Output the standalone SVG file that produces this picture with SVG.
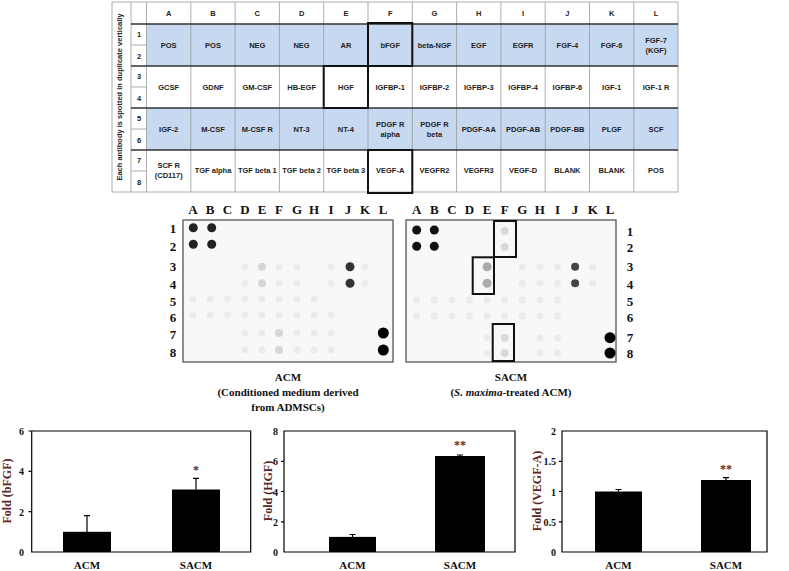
<svg xmlns="http://www.w3.org/2000/svg" width="789" height="571" viewBox="0 0 789 571">
<style>
.t{font-family:"Liberation Sans",Arial,sans-serif;font-size:7.5px;font-weight:bold;text-anchor:middle;fill:#222}
.s{font-family:"Liberation Serif","Times New Roman",serif;font-weight:bold;fill:#111}
.l{font-size:13px;text-anchor:middle}
.cap{font-size:11px;text-anchor:middle}
.tk{font-size:10px;text-anchor:end}
.yl{font-size:12px;text-anchor:middle;fill:#5a2626}
.g{stroke:#999;stroke-width:0.8;fill:none}
.bx{stroke:#111;stroke-width:2;fill:none}
.f{fill:#ebebeb}
.bar{fill:#000}
.ax{fill:none;stroke:#000;stroke-width:1.2}
</style>
<rect width="789" height="571" fill="#fff"/>
<g id="table">
<rect x="146.5" y="24" width="531.5" height="42" fill="#c6d9f0"/>
<rect x="146.5" y="108" width="531.5" height="42" fill="#c6d9f0"/>
<rect x="112" y="2" width="566" height="190" class="g"/>
<path class="g" d="M131 2V192M146.5 2V192M190.8 2V192M235.1 2V192M279.4 2V192M323.7 2V192M368 2V192M412.3 2V192M456.6 2V192M500.9 2V192M545.2 2V192M589.5 2V192M633.8 2V192M131 45H146.5M131 87H146.5M131 129H146.5M131 171H146.5"/>
<path stroke="#333" stroke-width="1.6" d="M131 24H678M131 66H678M131 108H678M131 150H678"/>
<text class="t" transform="translate(122 97) rotate(-90)" font-size="7">Each antibody is spotted in duplicate vertically</text>
<g class="t">
<text x="139" y="37">1</text><text x="139" y="59">2</text><text x="139" y="79">3</text><text x="139" y="101">4</text><text x="139" y="121">5</text><text x="139" y="143">6</text><text x="139" y="163">7</text><text x="139" y="185">8</text>
<text x="168.7" y="16">A</text><text x="213" y="16">B</text><text x="257.3" y="16">C</text><text x="301.6" y="16">D</text><text x="345.9" y="16">E</text><text x="390.2" y="16">F</text><text x="434.5" y="16">G</text><text x="478.8" y="16">H</text><text x="523.1" y="16">I</text><text x="567.4" y="16">J</text><text x="611.7" y="16">K</text><text x="656" y="16">L</text>
<text x="168.7" y="48">POS</text><text x="213" y="48">POS</text><text x="257.3" y="48">NEG</text><text x="301.6" y="48">NEG</text><text x="345.9" y="48">AR</text><text x="390.2" y="48">bFGF</text><text x="434.5" y="48">beta-NGF</text><text x="478.8" y="48">EGF</text><text x="523.1" y="48">EGFR</text><text x="567.4" y="48">FGF-4</text><text x="611.7" y="48">FGF-6</text><text x="656" y="43">FGF-7</text><text x="656" y="53">(KGF)</text>
<text x="168.7" y="90">GCSF</text><text x="213" y="90">GDNF</text><text x="257.3" y="90">GM-CSF</text><text x="301.6" y="90">HB-EGF</text><text x="345.9" y="90">HGF</text><text x="390.2" y="90">IGFBP-1</text><text x="434.5" y="90">IGFBP-2</text><text x="478.8" y="90">IGFBP-3</text><text x="523.1" y="90">IGFBP-4</text><text x="567.4" y="90">IGFBP-6</text><text x="611.7" y="90">IGF-1</text><text x="656" y="90">IGF-1 R</text>
<text x="168.7" y="132">IGF-2</text><text x="213" y="132">M-CSF</text><text x="257.3" y="132">M-CSF R</text><text x="301.6" y="132">NT-3</text><text x="345.9" y="132">NT-4</text><text x="390.2" y="127">PDGF R</text><text x="390.2" y="137">alpha</text><text x="434.5" y="127">PDGF R</text><text x="434.5" y="137">beta</text><text x="478.8" y="132">PDGF-AA</text><text x="523.1" y="132">PDGF-AB</text><text x="567.4" y="132">PDGF-BB</text><text x="611.7" y="132">PLGF</text><text x="656" y="132">SCF</text>
<text x="168.7" y="168">SCF R</text><text x="168.7" y="178">(CD117)</text><text x="213" y="173">TGF alpha</text><text x="257.3" y="173">TGF beta 1</text><text x="301.6" y="173">TGF beta 2</text><text x="345.9" y="173">TGF beta 3</text><text x="390.2" y="173">VEGF-A</text><text x="434.5" y="173">VEGFR2</text><text x="478.8" y="173">VEGFR3</text><text x="523.1" y="173">VEGF-D</text><text x="567.4" y="173">BLANK</text><text x="611.7" y="173">BLANK</text><text x="656" y="173">POS</text>
</g>
<rect class="bx" x="368" y="23" width="44.3" height="43"/>
<rect class="bx" x="323.7" y="66" width="44.3" height="42"/>
<rect class="bx" x="368" y="150" width="44.3" height="43"/>
</g>
<g id="blot-acm">
<rect x="183" y="220" width="210" height="142" fill="#f8f8f8" stroke="#555" stroke-width="1.3"/>
<g class="s l">
<text x="193" y="214">A</text><text x="210" y="214">B</text><text x="227.5" y="214">C</text><text x="245" y="214">D</text><text x="262" y="214">E</text><text x="279" y="214">F</text><text x="297" y="214">G</text><text x="314" y="214">H</text><text x="331" y="214">I</text><text x="348" y="214">J</text><text x="365" y="214">K</text><text x="383" y="214">L</text>
<text x="173" y="233">1</text><text x="173" y="251">2</text><text x="173" y="271">3</text><text x="173" y="289">4</text><text x="173" y="306">5</text><text x="173" y="322">6</text><text x="173" y="339">7</text><text x="173" y="357">8</text>
</g>
<g class="f">
<circle cx="245" cy="266.7" r="3.5"/><circle cx="279" cy="266.7" r="3.5"/><circle cx="297" cy="266.7" r="3.5"/><circle cx="331" cy="266.7" r="3.5"/><circle cx="365" cy="266.7" r="3.5"/>
<circle cx="245" cy="283.3" r="3.5"/><circle cx="279" cy="283.3" r="3.5"/><circle cx="297" cy="283.3" r="3.5"/><circle cx="331" cy="283.3" r="3.5"/><circle cx="365" cy="283.3" r="3.5"/>
<circle cx="193" cy="299" r="3.5"/><circle cx="210" cy="299" r="3.5"/><circle cx="227.5" cy="299" r="3.5"/><circle cx="245" cy="299" r="3.5"/><circle cx="262" cy="299" r="3.5"/><circle cx="279" cy="299" r="3.5"/><circle cx="297" cy="299" r="3.5"/><circle cx="314" cy="299" r="3.5"/>
<circle cx="193" cy="315" r="3.5"/><circle cx="210" cy="315" r="3.5"/><circle cx="227.5" cy="315" r="3.5"/><circle cx="245" cy="315" r="3.5"/><circle cx="262" cy="315" r="3.5"/><circle cx="279" cy="315" r="3.5"/><circle cx="297" cy="315" r="3.5"/><circle cx="314" cy="315" r="3.5"/><circle cx="331" cy="315" r="3.5"/>
<circle cx="245" cy="333" r="3.5"/><circle cx="262" cy="333" r="3.5"/><circle cx="297" cy="333" r="3.5"/><circle cx="314" cy="333" r="3.5"/><circle cx="331" cy="333" r="3.5"/>
<circle cx="245" cy="350" r="3.5"/><circle cx="262" cy="350" r="3.5"/><circle cx="297" cy="350" r="3.5"/><circle cx="314" cy="350" r="3.5"/><circle cx="331" cy="350" r="3.5"/>
</g>
<g fill="#d6d6d6"><circle cx="262" cy="266.7" r="4"/><circle cx="262" cy="283.3" r="4"/><circle cx="279" cy="333" r="4"/><circle cx="279" cy="350" r="4"/></g>
<g fill="#222"><circle cx="193.3" cy="227.7" r="4.5"/><circle cx="211.7" cy="227.7" r="4.5"/><circle cx="193.3" cy="244.3" r="4.5"/><circle cx="211.7" cy="244.3" r="4.5"/></g>
<g fill="#333"><circle cx="350" cy="266.7" r="4.5"/><circle cx="350" cy="283.3" r="4.5"/></g>
<g fill="#000"><circle cx="383.3" cy="333" r="5.5"/><circle cx="383.3" cy="350" r="5.5"/></g>
</g>
<g id="blot-sacm">
<rect x="406" y="220" width="210" height="142" fill="#f8f8f8" stroke="#555" stroke-width="1.3"/>
<g class="s l">
<text x="416.7" y="214">A</text><text x="434.3" y="214">B</text><text x="451.9" y="214">C</text><text x="469.5" y="214">D</text><text x="487.1" y="214">E</text><text x="504.7" y="214">F</text><text x="522.3" y="214">G</text><text x="539.9" y="214">H</text><text x="557.5" y="214">I</text><text x="575.1" y="214">J</text><text x="592.7" y="214">K</text><text x="610" y="214">L</text>
<text x="630" y="236">1</text><text x="630" y="252">2</text><text x="630" y="271">3</text><text x="630" y="289">4</text><text x="630" y="306">5</text><text x="630" y="322">6</text><text x="630" y="342">7</text><text x="630" y="358">8</text>
</g>
<g class="f">
<circle cx="522.3" cy="266.7" r="3.5"/><circle cx="539.9" cy="266.7" r="3.5"/><circle cx="557.5" cy="266.7" r="3.5"/><circle cx="592.7" cy="266.7" r="3.5"/>
<circle cx="522.3" cy="283.3" r="3.5"/><circle cx="539.9" cy="283.3" r="3.5"/><circle cx="557.5" cy="283.3" r="3.5"/><circle cx="592.7" cy="283.3" r="3.5"/>
<circle cx="416.7" cy="300" r="3.5"/><circle cx="434.3" cy="300" r="3.5"/><circle cx="451.9" cy="300" r="3.5"/><circle cx="469.5" cy="300" r="3.5"/><circle cx="487.1" cy="300" r="3.5"/><circle cx="504.7" cy="300" r="3.5"/><circle cx="522.3" cy="300" r="3.5"/><circle cx="539.9" cy="300" r="3.5"/><circle cx="557.5" cy="300" r="3.5"/>
<circle cx="416.7" cy="316" r="3.5"/><circle cx="434.3" cy="316" r="3.5"/><circle cx="451.9" cy="316" r="3.5"/><circle cx="469.5" cy="316" r="3.5"/><circle cx="487.1" cy="316" r="3.5"/><circle cx="504.7" cy="316" r="3.5"/><circle cx="522.3" cy="316" r="3.5"/><circle cx="539.9" cy="316" r="3.5"/><circle cx="557.5" cy="316" r="3.5"/>
<circle cx="487.1" cy="337.7" r="3.5"/><circle cx="539.9" cy="337.7" r="3.5"/><circle cx="557.5" cy="337.7" r="3.5"/><circle cx="487.1" cy="353" r="3.5"/><circle cx="539.9" cy="353" r="3.5"/><circle cx="557.5" cy="353" r="3.5"/>
</g>
<g fill="#dadada"><circle cx="504.7" cy="231" r="4"/><circle cx="504.7" cy="247" r="4"/><circle cx="504.7" cy="337.7" r="4"/><circle cx="504.7" cy="353" r="4"/></g>
<g fill="#aaa"><circle cx="487.1" cy="266.7" r="4.5"/><circle cx="487.1" cy="283.3" r="4.5"/></g>
<g fill="#111"><circle cx="416.7" cy="230" r="4.5"/><circle cx="434.3" cy="230" r="4.5"/><circle cx="416.7" cy="246.3" r="4.5"/><circle cx="434.3" cy="246.3" r="4.5"/></g>
<g fill="#444"><circle cx="575.1" cy="266.7" r="4"/><circle cx="575.1" cy="283.3" r="4"/></g>
<g fill="#000"><circle cx="610" cy="337.7" r="5.5"/><circle cx="610" cy="353" r="5.5"/></g>
<rect class="bx" x="494" y="221" width="22" height="36"/>
<rect class="bx" x="472.7" y="257.3" width="21.3" height="36.7"/>
<rect class="bx" x="492.7" y="324" width="21.3" height="37"/>
</g>
<g id="captions" class="s cap">
<text x="288" y="381">ACM</text>
<text x="288" y="396">(Conditioned  medium  derived</text>
<text x="288" y="411">from ADMSCs)</text>
<text x="511" y="381">SACM</text>
<text x="511" y="396">(<tspan font-style="italic">S. maxima</tspan>-treated  ACM)</text>
</g>
<g id="chart-bfgf">
<path class="ax" d="M31.7 431V552H250.7V431ZM28.5 431H31.7M28.5 471.3H31.7M28.5 511.7H31.7"/>
<rect class="bar" x="63" y="531.8" width="48" height="20.2"/>
<rect class="bar" x="172" y="489.5" width="48" height="62.5"/>
<path stroke="#000" stroke-width="1.2" d="M87 532V515.7M84 515.7H90M196 489.5V478.4M193 478.4H199"/>
<g class="s tk"><text x="24" y="556">0</text><text x="24" y="515.5">2</text><text x="24" y="475">4</text><text x="24" y="435">6</text></g>
<text class="s yl" transform="translate(11 491) rotate(-90)">Fold (bFGF)</text>
<text class="s yl" x="196" y="474" font-size="11">*</text>
<g class="s cap"><text x="87" y="569">ACM</text><text x="196" y="569">SACM</text></g>
</g>
<g id="chart-hgf">
<path class="ax" d="M284 431V552H515V431ZM281 461.3H284M281 491.5H284M281 521.8H284"/>
<rect class="bar" x="329" y="536.9" width="47" height="15.1"/>
<rect class="bar" x="435" y="456" width="50" height="96"/>
<path stroke="#000" stroke-width="1.2" d="M352.5 537V534.5M349.5 534.5H355.5M460 456V455M457 455H463"/>
<g class="s tk"><text x="278" y="556">0</text><text x="278" y="525.8">2</text><text x="278" y="495.5">4</text><text x="278" y="465.3">6</text><text x="278" y="435">8</text></g>
<text class="s yl" transform="translate(272 491) rotate(-90)">Fold (HGF)</text>
<text class="s yl" x="460" y="449" font-size="11">**</text>
<g class="s cap"><text x="352.5" y="569">ACM</text><text x="460" y="569">SACM</text></g>
</g>
<g id="chart-vegfa">
<path class="ax" d="M562 431V552H767V431ZM559 461.3H562M559 491.5H562M559 521.8H562"/>
<rect class="bar" x="595" y="491.5" width="47" height="60.5"/>
<rect class="bar" x="701" y="480" width="50" height="72"/>
<path stroke="#000" stroke-width="1.2" d="M618.5 491.5V489.5M615.5 489.5H621.5M726 480V477.6M723 477.6H729"/>
<g class="s tk"><text x="556" y="556">0</text><text x="556" y="525.8">0.5</text><text x="556" y="495.5">1</text><text x="556" y="465.3">1.5</text><text x="556" y="435">2</text></g>
<text class="s yl" transform="translate(541 491) rotate(-90)">Fold (VEGF-A)</text>
<text class="s yl" x="726" y="473" font-size="11">**</text>
<g class="s cap"><text x="618.5" y="569">ACM</text><text x="726" y="569">SACM</text></g>
</g>
</svg>
